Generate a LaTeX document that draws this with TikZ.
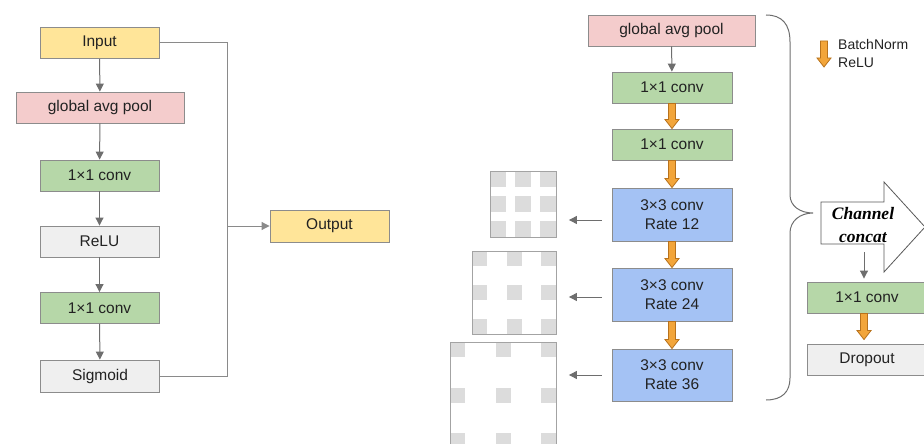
\documentclass[tikz,border=0pt]{standalone}
\usepackage{fontspec}
\setmainfont{Liberation Sans}
\newfontfamily\cfont{Liberation Serif}
\usetikzlibrary{arrows.meta,calc}
\definecolor{cyel}{HTML}{FFE599}
\definecolor{cpink}{HTML}{F4CCCC}
\definecolor{cgreen}{HTML}{B6D7A8}
\definecolor{cgrey}{HTML}{EFEFEF}
\definecolor{cblue}{HTML}{A4C2F4}
\definecolor{cborder}{HTML}{8C8C8C}
\definecolor{cline}{HTML}{6E6E6E}
\definecolor{ctrunk}{HTML}{8A8A8A}
\definecolor{ctext}{HTML}{222222}
\definecolor{csq}{HTML}{DCDCDC}
\definecolor{cofill}{HTML}{F2A53A}
\definecolor{codraw}{HTML}{B8721C}
\newcommand\bnarr[2]{\draw[oarr] let \p1=#1, \p2=#2 in
  (\x1-3.5pt,\y1) -- (\x1+3.5pt,\y1) -- (\x1+3.5pt,\y2+9pt) -- (\x1+7pt,\y2+9pt)
  -- (\x1,\y2) -- (\x1-7pt,\y2+9pt) -- (\x1-3.5pt,\y2+9pt) -- cycle;}
\begin{document}
\begin{tikzpicture}[x=1pt,y=-1pt,
  box/.style={draw=cborder, line width=0.9pt, minimum width=119pt, minimum height=31pt,
    inner sep=0pt, text=ctext, align=center, font=\fontsize{15.5}{19}\selectfont},
  garr/.style={draw=cline, line width=1pt, -{Triangle[length=8pt,width=8pt]}},
  gline/.style={draw=ctrunk, line width=1pt},
  oarr/.style={fill=cofill, draw=codraw, line width=0.8pt, line join=miter},
  gridb/.style={draw=cborder!80, line width=0.9pt, inner sep=0pt},
  sqc/.style={fill=csq}]
\useasboundingbox (0,0) rectangle (924,444);
\clip (0,0) rectangle (924,444);
% ---------- left ----------
\node[box, fill=cyel] (in) at (99.5,43) {Input};
\node[box, fill=cpink, minimum width=168pt] (gap) at (100,107.5) {global avg pool};
\node[box, fill=cgreen] (c1) at (99.5,175.5) {1×1 conv};
\node[box, fill=cgrey] (relu) at (99.5,241.5) {ReLU};
\node[box, fill=cgreen] (c2) at (99.5,308) {1×1 conv};
\node[box, fill=cgrey, minimum height=32pt] (sig) at (100,376) {Sigmoid};
\node[box, fill=cyel, minimum height=32pt] (out) at (329.5,226) {Output};
\draw[garr] (in) -- (gap);
\draw[garr] (gap) -- (c1);
\draw[garr] (c1) -- (relu);
\draw[garr] (relu) -- (c2);
\draw[garr] (c2) -- (sig);
\coordinate (j) at (227,226);
\draw[gline] (in.east) -| (j);
\draw[gline] (sig.east) -| (j);
\draw[garr, draw=ctrunk] (j) -- (out.west);
% ---------- right ----------
\node[box, fill=cpink, minimum width=167pt] (gp2) at (671.5,30.5) {global avg pool};
\node[box, fill=cgreen, minimum width=120pt] (r1) at (672,87.5) {1×1 conv};
\node[box, fill=cgreen, minimum width=120pt] (r2) at (672,144.5) {1×1 conv};
\node[box, fill=cblue, minimum width=120pt, minimum height=53pt] (a12) at (672,214.5) {3×3 conv\\Rate 12};
\node[box, fill=cblue, minimum width=120pt, minimum height=53pt] (a24) at (672,294.5) {3×3 conv\\Rate 24};
\node[box, fill=cblue, minimum width=120pt, minimum height=52pt] (a36) at (672,375) {3×3 conv\\Rate 36};
\draw[garr] (gp2) -- (r1);
\bnarr{(r1.south)}{(r2.north)}
\bnarr{(r2.south)}{(a12.north)}
\bnarr{(a12.south)}{(a24.north)}
\bnarr{(a24.south)}{(a36.north)}
% grids
\foreach \i in {0,1,2} \foreach \j in {0,1,2}
  \fill[sqc] ({490+25*\i},{171+25*\j}) rectangle ++(16,16);
\node[gridb, minimum width=66pt, minimum height=66pt, anchor=north west] (g1) at (490,171) {};
\foreach \i in {0,1,2} \foreach \j in {0,1,2}
  \fill[sqc] ({472+34.5*\i},{251+34*\j}) rectangle ++(15,15);
\node[gridb, minimum width=84pt, minimum height=83pt, anchor=north west] (g2) at (472,251) {};
\foreach \i in {0,1,2} \foreach \j in {0,1,2}
  \fill[sqc] ({450+45.5*\i},{342+45.5*\j}) rectangle ++(15,15);
\node[gridb, minimum width=106pt, minimum height=106pt, anchor=north west] (g3) at (450,342) {};
\draw[garr, shorten <=10pt, shorten >=12pt] ([yshift=-5.5pt]a12.west) -- ([yshift=-5.5pt]a12.west -| g1.east);
\draw[garr, shorten <=10pt, shorten >=12pt] ([yshift=-2.5pt]a24.west) -- ([yshift=-2.5pt]a24.west -| g2.east);
\draw[garr, shorten <=10pt, shorten >=12pt] (a36.west) -- (a36.west -| g3.east);
% brace
\draw[gline, draw=cline] (766,15) .. controls (782,15) and (790,24) .. (790,42) -- (790,195)
  .. controls (790,206) and (800,213) .. (813,213)
  .. controls (800,213) and (790,221) .. (790,233) -- (790,378)
  .. controls (790,392) and (782,400) .. (766,400);
% channel concat
\draw[draw=cline!80!black, line width=0.8pt, fill=white] (821,202) -- (884,202) -- (884,182) -- (925,227)
  -- (884,272) -- (884,244) -- (821,244) -- cycle;
\node[align=center, inner sep=0pt, text=black, font=\cfont\bfseries\itshape\fontsize{17.5}{23}\selectfont] (cc) at (863,225.5) {Channel\\concat};
\node[box, fill=cgreen, minimum width=120pt] (cv) at (867,297.5) {1×1 conv};
\node[box, fill=cgrey, minimum width=120pt] (dr) at (867,359.5) {Dropout};
\coordinate (ccb) at (864,252);
\draw[garr, shorten >=3pt] (ccb) -- (ccb |- cv.north);
\bnarr{(cv.south -| ccb)}{([yshift=4pt]dr.north -| ccb)}
% legend
\coordinate (l1) at (824,41);
\coordinate (l2) at (824,67);
\bnarr{(l1)}{(l2)}
\node[anchor=west, align=left, inner sep=0pt, text=ctext, font=\fontsize{14}{18}\selectfont] (leg) at (838,53) {BatchNorm\\ReLU};
\end{tikzpicture}
\end{document}
